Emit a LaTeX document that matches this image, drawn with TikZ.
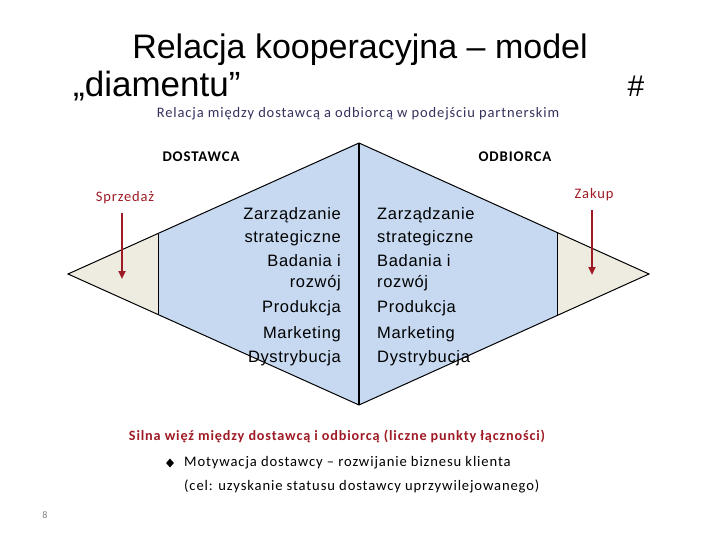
\documentclass[tikz,border=0pt]{standalone}
\usepackage{fontspec}
\setmainfont{Liberation Sans}
\newfontfamily\calibri[LetterSpace=6]{Carlito}
\newfontfamily\arialsp[LetterSpace=4]{Liberation Sans}
\usetikzlibrary{arrows.meta,shapes.geometric}
\definecolor{diamblue}{HTML}{C6D9F1}
\definecolor{diambeige}{HTML}{EEECE1}
\definecolor{arrred}{HTML}{9E1A24}
\definecolor{subnavy}{HTML}{34325C}
\tikzset{
  listtxt/.style={font=\arialsp\fontsize{16.5}{18}\selectfont,inner sep=0pt},
  headtxt/.style={font=\calibri\bfseries\fontsize{14.8}{16}\selectfont,inner sep=0pt},
  redtxt/.style={font=\calibri\fontsize{14.5}{16}\selectfont,text=arrred,inner sep=0pt},
  bottxt/.style={font=\calibri\fontsize{14.6}{17}\selectfont,inner sep=0pt}
}
\begin{document}
\begin{tikzpicture}[x=1pt,y=-1pt,>={Triangle[length=8pt,width=7pt]}]
                \useasboundingbox (0,0) rectangle (720,540);
                % diamond
                \fill[diambeige](68,274)--(158,233.5)--(158,314.5)--cycle;
                \fill[diambeige](649,274)--(557,232.6)--(557,315.4)--cycle;
                \fill[diamblue](158,233.5)--(359,143)--(557,232.6)--(557,315.4)--(359,405)--(158,314.5)--cycle;
                \draw[line width=1pt](68,274)--(359,143)--(649,274)--(359,405)--cycle;
                \draw[line width=0.8pt](158,233.5)--(158,314.5);
                \draw[line width=0.8pt](557,232.6)--(557,315.4);
                \draw[line width=1.4pt](359,143)--(359,405);
                % titles
                \node[font=\fontsize{34}{36}\selectfont,anchor=base,inner sep=0pt] (title1) at (360,59){Relacja kooperacyjna – model};
                \node[font=\fontsize{35}{36}\selectfont,anchor=base west,inner sep=0pt] (title2) at (73,97){„diamentu”};
                \node[font=\fontsize{30}{36}\selectfont,anchor=base,inner sep=0pt] (hash) at (636,97){\#};
                \node[font=\calibri\fontsize{14.5}{16}\selectfont,text=subnavy,anchor=base,inner sep=0pt] (subtitle) at (358,118){Relacja między dostawcą a odbiorcą w podejściu partnerskim};
                \node[headtxt] (dostawca) at (201,157){DOSTAWCA};
                \node[headtxt] (odbiorca) at (515,157){ODBIORCA};
                \node[redtxt] (sprzedaz) at (125,198){Sprzedaż};
                \node[redtxt] (zakup) at (594,195){Zakup};
                \coordinate (sprzedazend) at (122,279);
                \coordinate (zakupend) at (592,275);
                \draw[->,arrred,line width=2.4pt](sprzedaz.south -| sprzedazend)++(0,9)--(sprzedazend);
                \draw[->,arrred,line width=2.4pt](zakup.south -| zakupend)++(0,9)--(zakupend);
                % left list
                \node[listtxt,anchor=base east] (lzarz) at (341,220){Zarządzanie};
                \node[listtxt,anchor=base east] (lstrat) at (341,242){strategiczne};
                \node[listtxt,anchor=base east] (lbad) at (341,266){Badania i};
                \node[listtxt,anchor=base east] (lrozw) at (341,287){rozwój};
                \node[listtxt,anchor=base east] (lprod) at (341,312){Produkcja};
                \node[listtxt,anchor=base east] (lmark) at (341,338){Marketing};
                \node[listtxt,anchor=base east] (ldyst) at (341,362){Dystrybucja};
                % right list
                \node[listtxt,anchor=base west] (rzarz) at (377,220){Zarządzanie};
                \node[listtxt,anchor=base west] (rstrat) at (377,242){strategiczne};
                \node[listtxt,anchor=base west] (rbad) at (377,266){Badania i};
                \node[listtxt,anchor=base west] (rrozw) at (377,287){rozwój};
                \node[listtxt,anchor=base west] (rprod) at (377,312){Produkcja};
                \node[listtxt,anchor=base west] (rmark) at (377,338){Marketing};
                \node[listtxt,anchor=base west] (rdyst) at (377,362){Dystrybucja};
                % bottom text
                \node[redtxt,font=\calibri\bfseries\fontsize{14.2}{17}\selectfont] (silna) at (337,436){Silna więź między dostawcą i odbiorcą (liczne punkty łączności)};
                \node[diamond,fill=black,inner sep=0pt,minimum width=8pt,minimum height=9pt] (bullet) at (170,463){};
                \node[bottxt,anchor=west] (motyw) at (184,463){Motywacja dostawcy – rozwijanie biznesu klienta};
                \node[bottxt,anchor=west] (cel) at (184,486){(cel: uzyskanie statusu dostawcy uprzywilejowanego)};
                \node[font=\calibri\fontsize{10}{12}\selectfont,text=gray,inner sep=0pt] (page) at (45,515){8};
            \end{tikzpicture}
\end{document}
